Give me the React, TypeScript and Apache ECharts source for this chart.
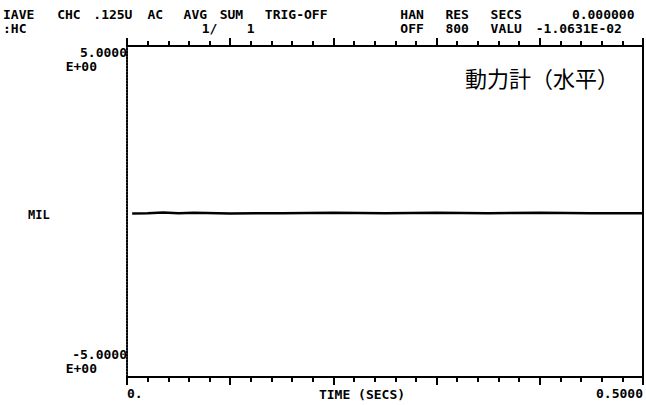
import React, { useEffect, useRef } from "react";
import * as echarts from "echarts";

// Data (seconds, MIL)
const times = [0.005, 0.02, 0.035, 0.05, 0.065, 0.1, 0.15, 0.2, 0.25, 0.3, 0.35, 0.4, 0.45, 0.5];
const values = [-0.06, -0.05, -0.03, -0.05, -0.04, -0.06, -0.05, -0.04, -0.05, -0.04, -0.05, -0.04, -0.05, -0.05];

// Axis range / ticks
const xMin = 0;
const xMax = 0.5;
const xMajor = 0.1;
const xMinor = 0.02;
const yMin = -5;
const yMax = 5;
const xMinLabel = "0.";
const xMaxLabel = "0.5000";
const yTopLabel = ["5.0000", "E+00"];
const yBottomLabel = ["-5.0000", "E+00"];
const yUnit = "MIL";
const xName = "TIME (SECS)";
const title = "動力計（水平）";

// Header words: [column, row, text]
const headerWords: [number, number, string][] = [
  [0, 0, "IAVE"], [6, 0, "CHC"], [10, 0, ".125U"], [16, 0, "AC"], [20, 0, "AVG"], [24, 0, "SUM"], [29, 0, "TRIG-OFF"],
  [44, 0, "HAN"], [49, 0, "RES"], [54, 0, "SECS"], [63, 0, "0.000000"],
  [0, 1, ":HC"], [22, 1, "1/"], [27, 1, "1"], [44, 1, "OFF"], [49, 1, "800"], [54, 1, "VALU"], [59, 1, "-1.0631E-02"],
];

const MONO = "DejaVu Sans Mono";

export default function App() {
  const ref = useRef<HTMLDivElement>(null);
  useEffect(() => {
    document.body.style.margin = "0";
    const chart = echarts.init(ref.current!, null, { renderer: "svg" });
    const txt = (x: number, y: number, text: string, align: string, size = 13) => ({
      type: "text",
      x,
      y,
      style: {
        text,
        fill: "#000",
        font: `bold ${size}px "${MONO}"`,
        textAlign: align,
        textVerticalAlign: "middle",
      },
    });
    const graphics: any[] = headerWords.map(([c, r, t]) => txt(3 + c * 9.03, 14 + r * 14, t, "left", 13));
    graphics.push(txt(127, 52, yTopLabel[0], "right"));
    graphics.push(txt(97, 66, yTopLabel[1], "right"));
    graphics.push(txt(127, 354, yBottomLabel[0], "right"));
    graphics.push(txt(97, 368, yBottomLabel[1], "right"));
    graphics.push(txt(28, 215, yUnit, "left", 12));
    graphics.push(txt(362, 394, xName, "center", 13));
    graphics.push({
      type: "text",
      x: 465,
      y: 77,
      style: {
        text: title,
        fill: "#000",
        font: '22px "Noto Sans CJK JP"',
        textAlign: "left",
        textVerticalAlign: "middle",
      },
    });

    const xAxisBase = (pos: string, interval: number, tickLen: number, grid: number, labels: boolean) => ({
      type: "value",
      gridIndex: grid,
      position: pos,
      min: xMin,
      max: xMax,
      interval,
      axisLine: { show: true, onZero: false, lineStyle: { color: "#000", width: 2 } },
      axisTick: { show: true, length: tickLen, lineStyle: { color: "#000", width: 2 } },
      splitLine: { show: false },
      axisLabel: labels
        ? {
            show: true,
            margin: 10,
            color: "#000",
            fontFamily: MONO,
            fontWeight: "bold",
            fontSize: 13,
            showMinLabel: true,
            showMaxLabel: true,
            alignMinLabel: "left",
            alignMaxLabel: "right",
            formatter: (v: number) =>
              Math.abs(v - xMin) < 1e-9 ? xMinLabel : Math.abs(v - xMax) < 1e-9 ? xMaxLabel : "",
          }
        : { show: false },
    });

    chart.setOption({
      animation: false,
      grid: [
        { left: 127, right: 3, top: 46, bottom: 28 },
        { left: 127, right: 3, top: 46, bottom: 28 },
      ],
      xAxis: [
        xAxisBase("bottom", xMajor, 8, 0, true),
        xAxisBase("top", xMajor, 8, 0, false),
        xAxisBase("bottom", xMinor, 5, 1, false),
        xAxisBase("top", xMinor, 5, 1, false),
      ],
      yAxis: [
        {
          type: "value",
          gridIndex: 0,
          position: "left",
          min: yMin,
          max: yMax,
          axisLine: { show: true, onZero: false, lineStyle: { color: "#000", width: 2, type: [1.5, 1.5] } },
          axisTick: { show: false },
          axisLabel: { show: false },
          splitLine: { show: false },
        },
        {
          type: "value",
          gridIndex: 0,
          position: "right",
          min: yMin,
          max: yMax,
          axisLine: { show: true, onZero: false, lineStyle: { color: "#000", width: 2 } },
          axisTick: { show: false },
          axisLabel: { show: false },
          splitLine: { show: false },
        },
        {
          type: "value",
          gridIndex: 1,
          min: yMin,
          max: yMax,
          show: false,
        },
      ],
      series: [
        {
          type: "line",
          xAxisIndex: 0,
          yAxisIndex: 0,
          data: times.map((t, i) => [t, values[i]]),
          showSymbol: false,
          lineStyle: { color: "#000", width: 2.5 },
        },
      ],
      graphic: graphics,
    });
    return () => chart.dispose();
  }, []);
  return <div ref={ref} style={{ width: 646, height: 405 }} />;
}
